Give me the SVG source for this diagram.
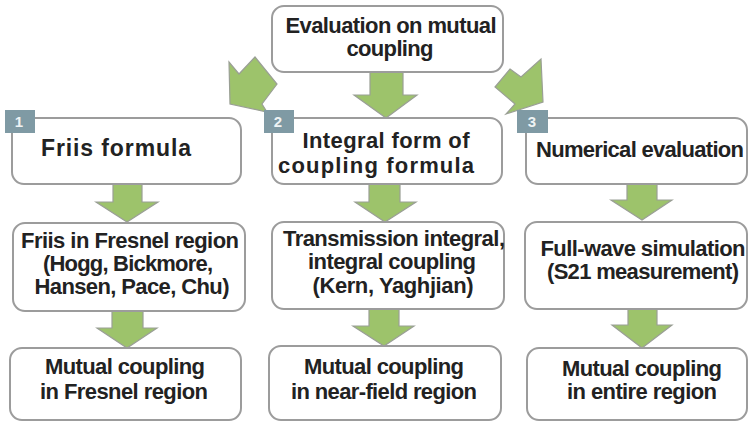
<svg xmlns="http://www.w3.org/2000/svg" width="749" height="422" viewBox="0 0 749 422">
<style>
.box{fill:#fff;stroke:#9c9c9c;stroke-width:2}
.arr{fill:#9dc36b;stroke:#9a9f95;stroke-width:1.2;stroke-linejoin:miter}
.badge{fill:#7f9aa4}
.bn{font-family:"Liberation Sans",Arial,sans-serif;font-weight:bold;font-size:15px;fill:#eef3f4;text-anchor:middle}
.t{font-family:"Liberation Sans",Arial,sans-serif;font-weight:bold;font-size:22px;fill:#222;text-anchor:middle}
.tl{font-size:23px}
</style>
<rect width="749" height="422" fill="#fff"/>
<g id="connectors">
<polygon class="arr" points="370,72 403,72 403,95 417,95 386,118 354,95 370,95"/>
<polygon class="arr" points="255,57 239,74 229,62 230,104 267,112 262,104 277,84"/>
<polygon class="arr" points="510,69 521,77 541,59 543,102 506,114 515,104 495,87"/>
<polygon class="arr" points="113,184 142,184 142,202 158,202 127,222 96,202 113,202"/>
<polygon class="arr" points="369,184 400,184 400,202 416,202 385,222 355,202 369,202"/>
<polygon class="arr" points="627,184 657,184 657,200 672,200 642,220 611,200 627,200"/>
<polygon class="arr" points="112,311 143,311 143,328 157,328 127,348 97,328 112,328"/>
<polygon class="arr" points="369,309 399,309 399,326 414,326 384,346 353,326 369,326"/>
<polygon class="arr" points="628,309 657,309 657,325 672,325 642,348 612,325 628,325"/>
</g>
<g id="top">
<rect class="box" x="272" y="6" width="231" height="66" rx="12"/>
<text class="t" x="391" y="33" textLength="211" lengthAdjust="spacing">Evaluation on mutual</text>
<text class="t" x="390" y="56" textLength="87" lengthAdjust="spacing">coupling</text>
</g>
<g id="friis">
<rect class="box" x="12" y="118" width="229" height="66" rx="12"/>
<rect class="badge" x="5" y="110" width="30" height="23"/>
<text class="bn" x="19" y="127">1</text>
<text class="t tl" x="116" y="156" textLength="150" lengthAdjust="spacing">Friis formula</text>
</g>
<g id="integral">
<rect class="box" x="272" y="118" width="230" height="66" rx="12"/>
<rect class="badge" x="264" y="110" width="30" height="23"/>
<text class="bn" x="278" y="127">2</text>
<text class="t" x="386" y="148" textLength="167" lengthAdjust="spacing">Integral form of</text>
<text class="t" x="376" y="173" textLength="196" lengthAdjust="spacing">coupling formula</text>
</g>
<g id="numerical">
<rect class="box" x="526" y="118" width="221" height="66" rx="12"/>
<rect class="badge" x="517" y="110" width="31" height="23"/>
<text class="bn" x="532" y="127">3</text>
<text class="t" x="640" y="157" textLength="208" lengthAdjust="spacing">Numerical evaluation</text>
</g>
<g id="fresnel">
<rect class="box" x="13" y="223" width="232" height="88" rx="12"/>
<text class="t" x="130" y="248" textLength="218" lengthAdjust="spacing">Friis in Fresnel region</text>
<text class="t" x="128" y="271" textLength="170" lengthAdjust="spacing">(Hogg, Bickmore,</text>
<text class="t" x="132" y="294" textLength="195" lengthAdjust="spacing">Hansen, Pace, Chu)</text>
</g>
<g id="transmission">
<rect class="box" x="272" y="222" width="232" height="87" rx="12"/>
<text class="t" x="394" y="246" textLength="222" lengthAdjust="spacing">Transmission integral,</text>
<text class="t" x="392" y="269" textLength="168" lengthAdjust="spacing">integral coupling</text>
<text class="t" x="393" y="293" textLength="161" lengthAdjust="spacing">(Kern, Yaghjian)</text>
</g>
<g id="fullwave">
<rect class="box" x="525" y="222" width="222" height="87" rx="12"/>
<text class="t" x="643" y="256" textLength="205" lengthAdjust="spacing">Full-wave simulation</text>
<text class="t" x="643" y="279" textLength="192" lengthAdjust="spacing">(S21 measurement)</text>
</g>
<g id="mc-fresnel">
<rect class="box" x="10" y="348" width="231" height="72" rx="12"/>
<text class="t" x="125" y="374" textLength="160" lengthAdjust="spacing">Mutual coupling</text>
<text class="t" x="124" y="399" textLength="168" lengthAdjust="spacing">in Fresnel region</text>
</g>
<g id="mc-near">
<rect class="box" x="269" y="346" width="232" height="74" rx="12"/>
<text class="t" x="384" y="374" textLength="160" lengthAdjust="spacing">Mutual coupling</text>
<text class="t" x="384" y="399" textLength="186" lengthAdjust="spacing">in near-field region</text>
</g>
<g id="mc-entire">
<rect class="box" x="527" y="348" width="220" height="72" rx="12"/>
<text class="t" x="642" y="376" textLength="160" lengthAdjust="spacing">Mutual coupling</text>
<text class="t" x="642" y="399" textLength="150" lengthAdjust="spacing">in entire region</text>
</g>
</svg>
